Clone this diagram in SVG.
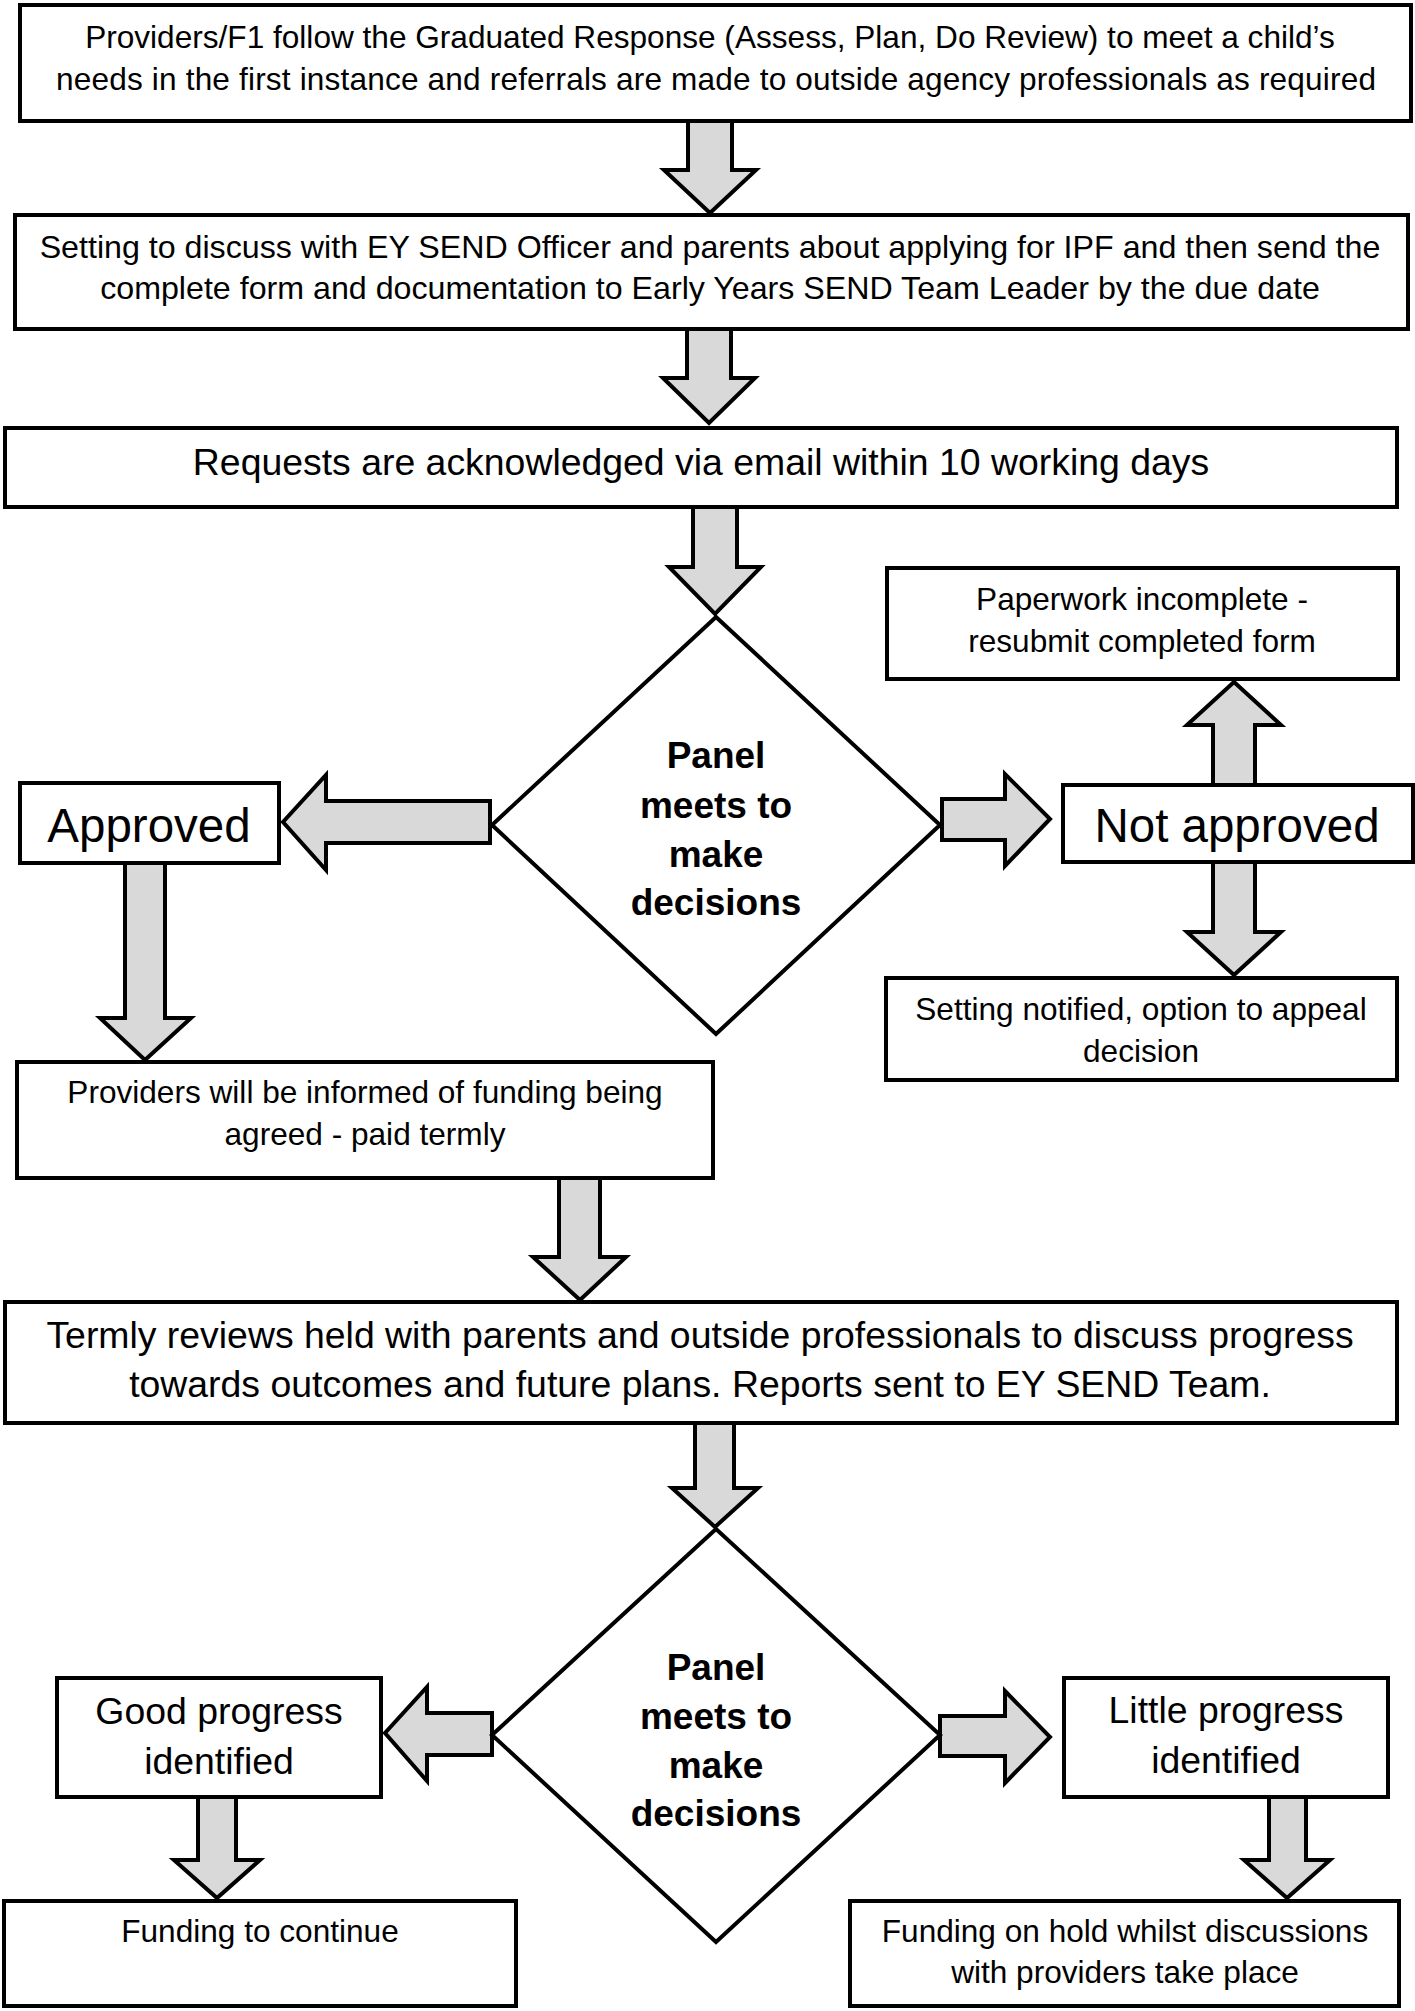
<svg xmlns="http://www.w3.org/2000/svg" width="1415" height="2011" viewBox="0 0 1415 2011">
<style>
.box{fill:#fff;stroke:#000;stroke-width:4}
.dia{fill:#fff;stroke:#000;stroke-width:4;stroke-linejoin:miter}
.arr{fill:#d9d9d9;stroke:#000;stroke-width:4;stroke-linejoin:miter}
text{font-family:"Liberation Sans",Arial,sans-serif;fill:#000;text-anchor:middle}
.s{font-size:31.6px}
.s2{font-size:32.2px}
.m{font-size:37.4px}
.l{font-size:47.5px}
.b{font-size:37px;font-weight:bold}
</style>
<rect width="1415" height="2011" fill="#fff"/>
<g id="connectors">
<polygon class="arr" points="688,118 732,118 732,170 756,170 710,213 664,170 688,170"/>
<polygon class="arr" points="687,329 731,329 731,378 755,378 709,423 663,378 687,378"/>
<polygon class="arr" points="693,507 737,507 737,567 761,567 715,614 669,567 693,567"/>
<polygon class="arr" points="490,801 490,843 326,843 326,870 283,822 326,775 326,801"/>
<polygon class="arr" points="942,799 942,840 1005,840 1005,866 1050,819 1005,774 1005,799"/>
<polygon class="arr" points="1213,785 1213,725 1187,725 1234,682 1281,725 1255,725 1255,785"/>
<polygon class="arr" points="1213,862 1255,862 1255,932 1281,932 1234,975 1187,932 1213,932"/>
<polygon class="arr" points="125,862 165,862 165,1018 191,1018 145,1060 100,1018 125,1018"/>
<polygon class="arr" points="559,1178 600,1178 600,1257 626,1257 580,1300 533,1257 559,1257"/>
<polygon class="arr" points="695,1423 734,1423 734,1488 758,1488 715,1527 672,1488 695,1488"/>
<polygon class="arr" points="492,1713 492,1755 427,1755 427,1781 385,1733 427,1687 427,1713"/>
<polygon class="arr" points="940,1716 940,1756 1005,1756 1005,1783 1050,1737 1005,1691 1005,1716"/>
<polygon class="arr" points="198,1797 236,1797 236,1860 260,1860 217,1898 174,1860 198,1860"/>
<polygon class="arr" points="1269,1797 1306,1797 1306,1860 1330,1860 1287,1898 1244,1860 1269,1860"/>
</g>
<g id="n1"><rect class="box" x="20" y="5" width="1391" height="116"/>
<text class="s" x="710" y="48">Providers/F1 follow the Graduated Response (Assess, Plan, Do Review) to meet a child’s</text>
<text class="s" x="716" y="90" textLength="1320">needs in the first instance and referrals are made to outside agency professionals as required</text></g>
<g id="n2"><rect class="box" x="15" y="215" width="1393" height="114"/>
<text class="s2" x="710" y="258">Setting to discuss with EY SEND Officer and parents about applying for IPF and then send the</text>
<text class="s2" x="710" y="299">complete form and documentation to Early Years SEND Team Leader by the due date</text></g>
<g id="n3"><rect class="box" x="5" y="428" width="1392" height="79"/>
<text class="m" x="701" y="475">Requests are acknowledged via email within 10 working days</text></g>
<g id="d1"><polygon class="dia" points="716,617 940,825 716,1034 492,825"/>
<text class="b" x="716" y="768">Panel</text>
<text class="b" x="716" y="818">meets to</text>
<text class="b" x="716" y="867">make</text>
<text class="b" x="716" y="915">decisions</text></g>
<g id="n4"><rect class="box" x="887" y="568" width="511" height="111"/>
<text class="s" x="1142" y="610">Paperwork incomplete -</text>
<text class="s" x="1142" y="652">resubmit completed form</text></g>
<g id="n5"><rect class="box" x="20" y="783" width="259" height="80"/>
<text class="l" x="149" y="842">Approved</text></g>
<g id="n6"><rect class="box" x="1063" y="785" width="350" height="77"/>
<text class="l" x="1237" y="842">Not approved</text></g>
<g id="n7"><rect class="box" x="886" y="978" width="511" height="102"/>
<text class="s" x="1141" y="1020">Setting notified, option to appeal</text>
<text class="s" x="1141" y="1062">decision</text></g>
<g id="n8"><rect class="box" x="17" y="1062" width="696" height="116"/>
<text class="s" x="365" y="1103">Providers will be informed of funding being</text>
<text class="s" x="365" y="1145">agreed - paid termly</text></g>
<g id="n9"><rect class="box" x="5" y="1302" width="1392" height="121"/>
<text class="m" x="700" y="1348">Termly reviews held with parents and outside professionals to discuss progress</text>
<text class="m" x="700" y="1397">towards outcomes and future plans. Reports sent to EY SEND Team.</text></g>
<g id="d2"><polygon class="dia" points="716,1529 940,1735 716,1942 492,1735"/>
<text class="b" x="716" y="1680">Panel</text>
<text class="b" x="716" y="1729">meets to</text>
<text class="b" x="716" y="1778">make</text>
<text class="b" x="716" y="1826">decisions</text></g>
<g id="n10"><rect class="box" x="57" y="1678" width="324" height="119"/>
<text class="m" x="219" y="1724">Good progress</text>
<text class="m" x="219" y="1774">identified</text></g>
<g id="n11"><rect class="box" x="1064" y="1678" width="324" height="119"/>
<text class="m" x="1226" y="1723">Little progress</text>
<text class="m" x="1226" y="1773">identified</text></g>
<g id="n12"><rect class="box" x="4" y="1901" width="512" height="105"/>
<text class="s" x="260" y="1942">Funding to continue</text></g>
<g id="n13"><rect class="box" x="850" y="1901" width="549" height="105"/>
<text class="s" x="1125" y="1942">Funding on hold whilst discussions</text>
<text class="s" x="1125" y="1983">with providers take place</text></g>
</svg>
